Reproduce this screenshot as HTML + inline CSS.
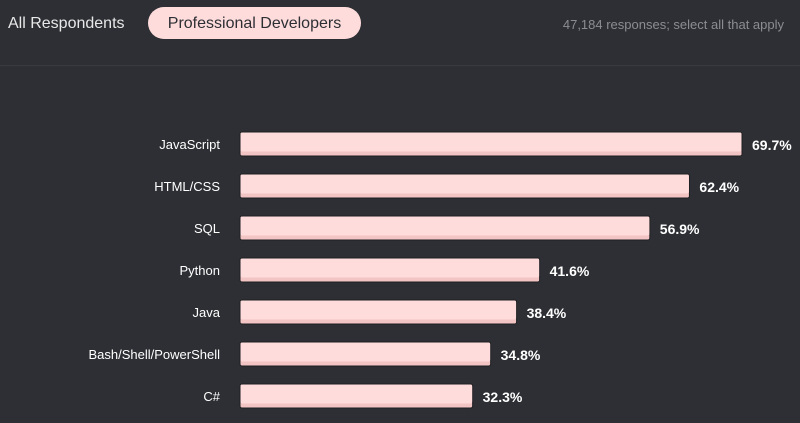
<!DOCTYPE html>
<html><head><meta charset="utf-8"><style>
body{margin:0;width:800px;height:423px;background:#2d2f34;overflow:hidden;font-family:"Liberation Sans",sans-serif;position:relative}
.t{position:absolute;color:#fff}
</style></head><body>
<div class="t" style="left:8px;top:15px;font-size:16px;color:#e8e8e8">All Respondents</div>
<div style="position:absolute;left:148px;top:7px;width:213px;height:32px;border-radius:16px;background:#ffdcdc;color:#2d2f34;font-size:16px;line-height:33px;text-align:center">Professional Developers</div>
<div class="t" style="right:16px;top:17px;font-size:13px;color:#8b8d92">47,184 responses; select all that apply</div>
<div style="position:absolute;left:0;top:65px;width:800px;height:1px;background:#383a40"></div>
<svg id="c" width="800" height="423" style="position:absolute;left:0;top:0"></svg>
<script>
const categories=["JavaScript","HTML/CSS","SQL","Python","Java","Bash/Shell/PowerShell","C#"];
const values=[69.7,62.4,56.9,41.6,38.4,34.8,32.3];
const labels=["69.7%","62.4%","56.9%","41.6%","38.4%","34.8%","32.3%"];
const svg=document.getElementById('c'),NS="http://www.w3.org/2000/svg";
const x0=240,k=502/69.7,y=i=>132+i*42,bh=24;
function mk(t,a){const e=document.createElementNS(NS,t);for(const n in a)e.setAttribute(n,a[n]);svg.appendChild(e);return e;}
categories.forEach((c,i)=>{
 const w=values[i]*k;
 const r=mk('rect',{x:x0,y:y(i),width:w,height:bh,rx:2,fill:'#f2c4c4',stroke:'#1e1f22','stroke-width':1});
 
 
 const r2=mk('rect',{x:x0+0.5,y:y(i)+0.5,width:w-1,height:bh-5,rx:2,fill:'#ffdcdc'});
 
 
 const l=mk('text',{x:220,y:y(i)+17,'text-anchor':'end',fill:'#fff','font-size':13});
 l.textContent=c;
 
 
 const v=mk('text',{x:x0+w+10,y:y(i)+18,fill:'#fff','font-size':14,'font-weight':'bold'});
 v.textContent=labels[i];
 
 
});
</script>
</body></html>
